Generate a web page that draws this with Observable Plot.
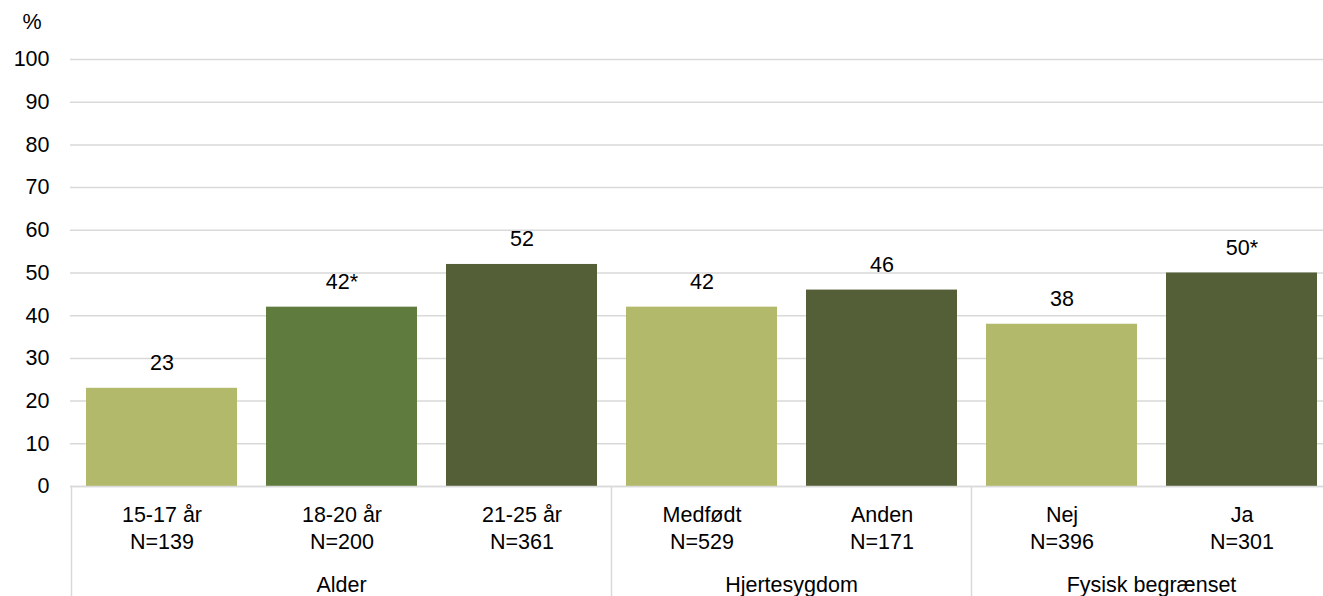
<!DOCTYPE html>
<html>
<head>
<meta charset="utf-8">
<script src="https://cdn.jsdelivr.net/npm/d3@7"></script>
<script src="https://cdn.jsdelivr.net/npm/@observablehq/plot@0.6"></script>
<style>
  html, body { margin: 0; padding: 0; background: #fff; overflow: hidden; }
  svg { font-family: "Liberation Sans", Arial, sans-serif; }
</style>
</head>
<body>
<div id="chart"></div>
<script>
const categories = ["15-17 år", "18-20 år", "21-25 år", "Medfødt", "Anden", "Nej", "Ja"];
const counts = ["N=139", "N=200", "N=361", "N=529", "N=171", "N=396", "N=301"];
const values = [23, 42, 52, 42, 46, 38, 50];
const valueLabels = ["23", "42*", "52", "42", "46", "38", "50*"];
const groups = ["Alder", "Alder", "Alder", "Hjertesygdom", "Hjertesygdom", "Fysisk begrænset", "Fysisk begrænset"];
const shades = ["light", "mid", "dark", "light", "dark", "light", "dark"];
const yTicks = [0, 10, 20, 30, 40, 50, 60, 70, 80, 90, 100];

const data = categories.map((c, i) => ({
  cat: c, n: counts[i], value: values[i], label: valueLabels[i], group: groups[i], shade: shades[i]
}));
const groupNames = [...new Set(groups)];

const fontSize = 21.5;

const groupMark = (index, scales, values, dimensions) => {
  const g = d3.create("svg:g");
  const x = scales.x;
  const bw = x.bandwidth();
  const step = x.step();
  const pad = (step - bw) / 2;
  const y0 = scales.y(0);
  const boundaries = [];
  groupNames.forEach((gn, gi) => {
    const members = data.filter(d => d.group === gn);
    const left = x(members[0].cat) - pad;
    const right = x(members[members.length - 1].cat) + bw + pad;
    if (gi === 0) boundaries.push(left);
    boundaries.push(right);
    g.append("text")
      .attr("x", (left + right) / 2)
      .attr("y", y0 + 106)
      .attr("text-anchor", "middle")
      .attr("font-size", fontSize)
      .attr("fill", "#000")
      .text(gn);
  });
  boundaries.forEach(b => {
    g.append("line")
      .attr("x1", b).attr("x2", b)
      .attr("y1", y0).attr("y2", dimensions.height)
      .attr("stroke", "#d9d9d9").attr("stroke-width", 1.5);
  });
  return g.node();
};

const chart = Plot.plot({
  width: 1323,
  height: 596,
  marginTop: 59,
  marginBottom: 110,
  marginLeft: 70,
  marginRight: 0,
  style: { fontFamily: '"Liberation Sans", Arial, sans-serif', fontSize: fontSize + "px", background: "#fff" },
  x: { domain: categories, range: [70, 1332], paddingInner: 0.162, paddingOuter: 0.081, axis: null },
  y: { domain: [0, 100], axis: null },
  color: { domain: ["light", "mid", "dark"], range: ["#b2b96b", "#5f7c3e", "#545f38"] },
  marks: [
    Plot.gridY(yTicks, { stroke: "#d9d9d9", strokeOpacity: 1, strokeWidth: 1.5 }),
    Plot.axisY(yTicks, { tickSize: 0, tickPadding: 21, fontSize: fontSize, fill: "#000", label: null }),
    Plot.barY(data, { x: "cat", y: "value", fill: "shade" }),
    Plot.ruleY([0], { stroke: "#d9d9d9", strokeWidth: 1.5 }),
    Plot.text(data, { x: "cat", y: "value", text: "label", dy: -25, fontSize: fontSize, fill: "#000" }),
    Plot.text(data, { x: "cat", y: () => 0, text: d => d.cat + "\n" + d.n, lineAnchor: "top", dy: 16, lineHeight: 1.27, fontSize: fontSize, fill: "#000" }),
    Plot.text(["%"], { frameAnchor: "top-left", dx: -48, dy: -46, textAnchor: "start", fontSize: fontSize, fill: "#000" }),
    groupMark
  ]
});
document.getElementById("chart").appendChild(chart);
</script>
</body>
</html>
